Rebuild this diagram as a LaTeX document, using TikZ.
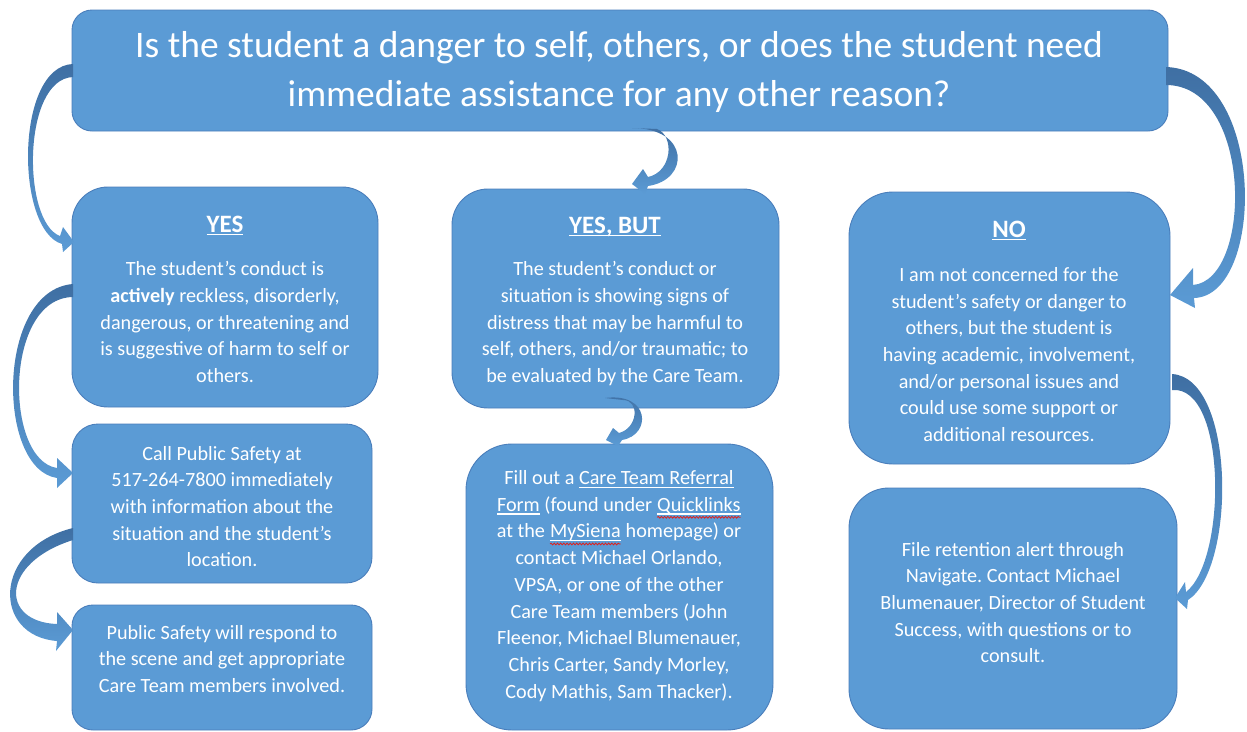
\documentclass[tikz,border=0pt]{standalone}
\usepackage{fontspec}
\setmainfont{Carlito}
\usetikzlibrary{calc,decorations.pathmorphing}
\frenchspacing
\definecolor{boxfill}{HTML}{5B9BD5}
\definecolor{boxline}{HTML}{4A7EBB}
\definecolor{arrowdark}{HTML}{3F6FA3}
\definecolor{spellred}{HTML}{E0201B}
% underlined text: #1 rule depth below baseline, #2 rule thickness, #3 text
\newcommand\undl[3]{\leavevmode\setbox0\hbox{#3}\rlap{\rule[-#1]{\wd0}{#2}}\box0\relax}
% word marked by the spell checker: white underline plus red wavy line
\newcommand\spellflag[1]{\tikz[baseline=(sw.base)]{\node[inner sep=0pt,outer sep=0pt,text=white] (sw) {\undl{3.4pt}{1.2pt}{#1}};\draw[spellred,line width=0.8pt,decorate,decoration={snake,amplitude=0.9pt,segment length=3.2pt}] ([yshift=-6pt]sw.base west) -- ([yshift=-6pt]sw.base east);}}
\begin{document}
\begin{tikzpicture}[x=1pt,y=-1pt,
  box/.style={draw=boxline, line width=0.9pt, fill=boxfill, rounded corners=#1, inner sep=0pt, outer sep=0pt},
  box/.default=30pt,
  bodytext/.style={text=white, align=center, inner sep=0pt, font=\fontsize{20.2}{26.7}\selectfont},
  headtext/.style={text=white, inner sep=0pt, anchor=base, font=\fontsize{25}{28}\selectfont\bfseries},
  blockarrow/.style={top color=arrowdark, middle color=boxfill, bottom color=boxfill}]

\useasboundingbox (0,0) rectangle (1247,731);
\clip (0,0) rectangle (1247,731);

% boxes
\node[box=20pt, minimum width=1096pt, minimum height=121pt] (top) at (620,70.5) {};
\node[box=36pt, minimum width=306pt, minimum height=220pt] (yes) at (225,297) {};
\node[box=26pt, minimum width=300pt, minimum height=159pt] (call) at (222,503.5) {};
\node[box=21pt, minimum width=300pt, minimum height=125pt] (pub) at (222,667.5) {};
\node[box=36pt, minimum width=327pt, minimum height=219pt] (yesbut) at (615.5,298.5) {};
\node[box=46pt, minimum width=307pt, minimum height=286pt] (fill) at (619.5,587) {};
\node[box=44pt, minimum width=321pt, minimum height=272pt] (no) at (1009.5,328) {};
\node[box=40pt, minimum width=328pt, minimum height=241pt] (file) at (1013,608.5) {};

% texts
\node[text=white, align=center, inner sep=0pt, font=\fontsize{37.5}{50}\selectfont] (top-txt) at (619,72)
  {Is the student a danger to self, others, or does the student need\\immediate assistance for any other reason?};

\node[headtext] (yes-title) at (225,232) {\undl{3.2pt}{1.5pt}{YES}};
\node[bodytext] (yes-txt) at (225,322)
  {The student’s conduct is\\\textbf{actively} reckless, disorderly,\\dangerous, or threatening and\\is suggestive of harm to self or\\others.};
\node[bodytext] (call-txt) at (222,506.5)
  {Call Public Safety at\\517-264-7800 immediately\\with information about the\\situation and the student’s\\location.};
\node[bodytext] (pub-txt) at (222,659)
  {Public Safety will respond to\\the scene and get appropriate\\Care Team members involved.};

\node[headtext] (yesbut-title) at (615,233) {\undl{3.2pt}{1.5pt}{YES, BUT}};
\node[bodytext] (yesbut-txt) at (615,323.5)
  {The student’s conduct or\\situation is showing signs of\\distress that may be harmful to\\self, others, and/or traumatic; to\\be evaluated by the Care Team.};
\node[bodytext] (fill-txt) at (619,586)
  {Fill out a \undl{3.4pt}{1.2pt}{Care Team Referral}\\\undl{3.4pt}{1.2pt}{Form} (found under \spellflag{Quicklinks}\\at the \spellflag{MySiena} homepage) or\\contact Michael Orlando,\\VPSA, or one of the other\\Care Team members (John\\Fleenor, Michael Blumenauer,\\Chris Carter, Sandy Morley,\\Cody Mathis, Sam Thacker).};

\node[headtext] (no-title) at (1009,237) {\undl{3.2pt}{1.5pt}{NO}};
\node[bodytext] (no-txt) at (1009,354.5)
  {I am not concerned for the\\student’s safety or danger to\\others, but the student is\\having academic, involvement,\\and/or personal issues and\\could use some support or\\additional resources.};
\node[bodytext] (file-txt) at (1013,602.5)
  {File retention alert through\\Navigate. Contact Michael\\Blumenauer, Director of Student\\Success, with questions or to\\consult.};

% curved block arrows
\path[blockarrow] ([shift={(1,-6.5)}]top.west) .. controls +(-58,2) and +(-47,-14) .. ([shift={(-10,-53)}]yes.west)
  -- ([shift={(-9,-45)}]yes.west) -- ([shift={(2,-55)}]yes.west) -- ([shift={(-9,-70)}]yes.west) -- ([shift={(-12,-61)}]yes.west)
  .. controls +(-38,-14) and +(-51,2) .. ([shift={(1,6.5)}]top.west) -- cycle;

\path[blockarrow] ([shift={(1,-13)}]yes.west) .. controls +(-77,6) and +(-61,-9) .. ([shift={(-15,-25.5)}]call.west)
  -- ([shift={(-15,-15.5)}]call.west) -- ([shift={(1,-30.5)}]call.west) -- ([shift={(-15,-45.5)}]call.west) -- ([shift={(-15,-35.5)}]call.west)
  .. controls +(-53,-8) and +(-69,1) .. ([shift={(1,0)}]yes.west) -- cycle;

\path[blockarrow] ([shift={(1,24.5)}]call.west) .. controls +(-81,20) and +(-65,-5) .. ([shift={(-15,-26.5)}]pub.west)
  -- ([shift={(-16,-16.5)}]pub.west) -- ([shift={(1,-37.5)}]pub.west) -- ([shift={(-15,-55.5)}]pub.west) -- ([shift={(-15,-43.5)}]pub.west)
  .. controls +(-57,-2) and +(-73,23) .. ([shift={(1,36.5)}]call.west) -- cycle;

\path[blockarrow] ([shift={(-2,-3.5)}]top.east) .. controls +(100,3) and +(72,-2) .. ([shift={(24,-30)}]no.east)
  -- ([shift={(25,-20)}]no.east) -- ([shift={(0,-33)}]no.east) -- ([shift={(23,-60)}]no.east) -- ([shift={(23,-43)}]no.east)
  .. controls +(60,-5) and +(87,0) .. ([shift={(-2,14.5)}]top.east) -- cycle;

\path[blockarrow] ([shift={(12,-3)}]top.south) .. controls +(58,0) and +(42,-6) .. ([shift={(32.5,-3)}]yesbut.north)
  -- ([shift={(29.5,5)}]yesbut.north) -- ([shift={(16.5,-5)}]yesbut.north) -- ([shift={(27.5,-20)}]yesbut.north) -- ([shift={(32.5,-12)}]yesbut.north)
  .. controls +(24,-5) and +(18,7) .. ([shift={(37,-2)}]top.south) -- cycle;

\path[blockarrow] ([shift={(-10.5,-10)}]yesbut.south) .. controls +(45,-6) and +(30,-5) .. ([shift={(2.5,-4)}]fill.north)
  -- ([shift={(-1.5,2)}]fill.north) -- ([shift={(-13.5,-4)}]fill.north) -- ([shift={(-6.5,-16)}]fill.north) -- ([shift={(-0.5,-11)}]fill.north)
  .. controls +(19,-5) and +(17,0) .. ([shift={(7.5,-8)}]yesbut.south) -- cycle;

\path[blockarrow] ([shift={(2,46)}]no.east) .. controls +(64,4) and +(48,-31) .. ([shift={(11,-8.5)}]file.east)
  -- ([shift={(10,0.5)}]file.east) -- ([shift={(-2,-10.5)}]file.east) -- ([shift={(8,-26.5)}]file.east) -- ([shift={(9,-16.5)}]file.east)
  .. controls +(41,-32) and +(55,-5) .. ([shift={(2,62)}]no.east) -- cycle;
\end{tikzpicture}
\end{document}
